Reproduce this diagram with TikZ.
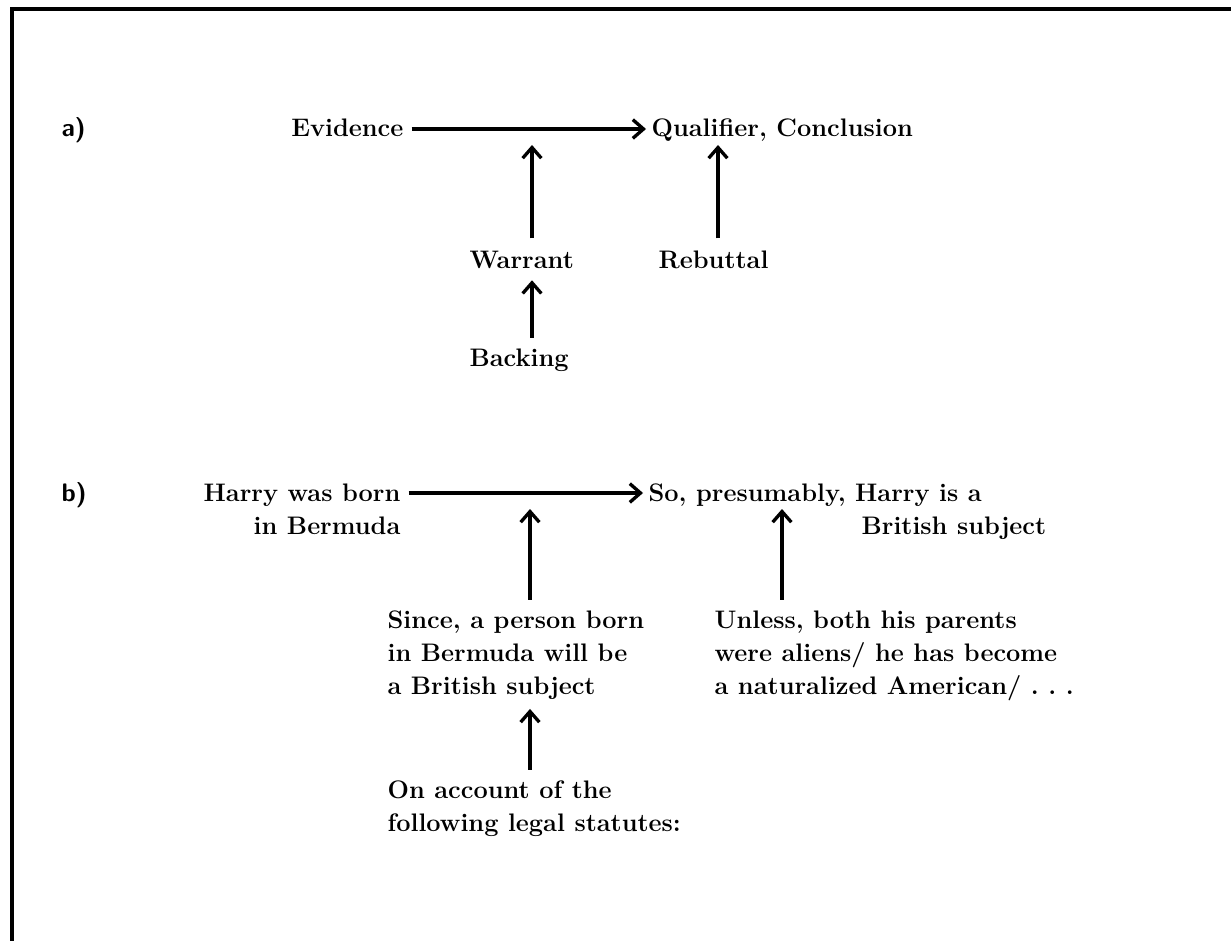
\documentclass[tikz,border=0pt]{standalone}
\usetikzlibrary{arrows.meta, positioning}

\begin{document}
\begin{tikzpicture}[x=0.75pt, y=-0.75pt]
    \tikzset{
        lbl/.style={
            inner sep=1pt,
            text height=16pt,
            text depth=4pt,
            font=\fontsize{19}{24.75}\selectfont\bfseries
        },
        blk/.style={
            inner sep=1pt,
            align=left,
            anchor=north west,
            font=\fontsize{19}{24.75}\selectfont\bfseries
        },
        arr/.style={
            line width=2.5pt,
            -{Straight Barb[length=8pt, width=14pt]}
        }
    }

    \useasboundingbox (0,0) rectangle (1231,941);
    \draw[line width=2.3pt] (1231,9) -- (12,9) -- (12,941);

    % part a)
    \node[lbl, anchor=base west, font=\fontsize{19}{24.75}\selectfont\sffamily\bfseries] (parta) at (60,137) {a)};
    \node[lbl, anchor=base east] (evidence) at (405,137) {Evidence};
    \node[lbl, anchor=base west] (conclusion) at (650,137) {Qualifier, Conclusion};
    \node[lbl, anchor=base west] (warrant) at (468,268) {Warrant};
    \node[lbl, anchor=base west] (rebuttal) at (657,268) {Rebuttal};
    \node[lbl, anchor=base west] (backing) at (468,366) {Backing};

    \coordinate (wtip) at (532,145);
    \coordinate (rtip) at (718,145);

    \draw[arr, shorten <=5pt, shorten >=3pt] (evidence) -- (conclusion);
    \draw[arr, shorten <=5pt] (warrant.north -| wtip) -- (wtip);
    \draw[arr, shorten <=5pt] (rebuttal.north -| rtip) -- (rtip);
    \draw[arr, shorten <=4pt, shorten >=4pt] (backing.north -| wtip) -- (warrant.south -| wtip);

    % part b)
    \node[lbl, anchor=base west, font=\fontsize{19}{24.75}\selectfont\sffamily\bfseries] (partb) at (60,501) {b)};
    \node[lbl, anchor=base east] (harry) at (402,501) {Harry was born};
    \node[lbl, below=3pt of harry.south east, anchor=north east] (bermuda) {in Bermuda};
    \node[lbl, anchor=base west] (presumably) at (647,501) {So, presumably, Harry is a};
    \node[lbl, anchor=base west] (subject) at (860,534) {British subject};

    \node[blk] (since) at (386,609) {Since, a person born\\in Bermuda will be\\a British subject};
    \node[blk] (unless) at (713,609) {Unless, both his parents\\were aliens/ he has become\\a naturalized American/ .~.~.};
    \node[blk] (account) at (386,779) {On account of the\\following legal statutes:};

    \coordinate (stip) at (530,509);
    \coordinate (utip) at (782,509);

    \draw[arr, shorten <=5pt, shorten >=3pt] (harry) -- (presumably);
    \draw[arr, shorten <=7pt] (since.north -| stip) -- (stip);
    \draw[arr, shorten <=7pt] (unless.north -| utip) -- (utip);
    \draw[arr, shorten <=7pt, shorten >=6pt] (account.north -| stip) -- (since.south -| stip);

\end{tikzpicture}
\end{document}
